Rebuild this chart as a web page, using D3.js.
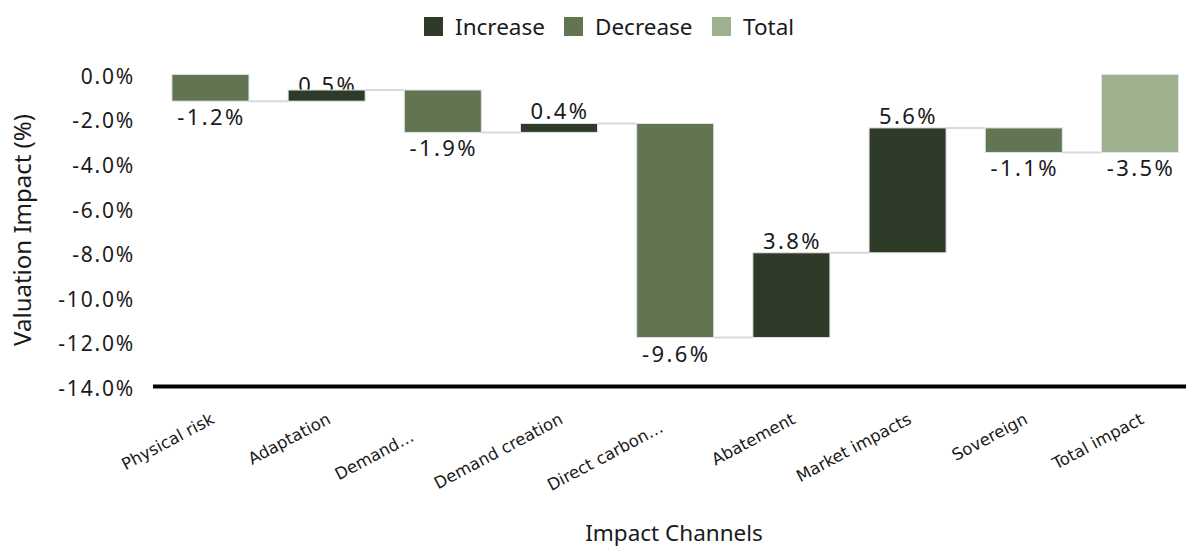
<!DOCTYPE html>
<html>
<head>
<meta charset="utf-8">
<script src="https://cdn.jsdelivr.net/npm/d3@7"></script>
<style>
  html, body { margin: 0; padding: 0; background: #fff; }
  svg { display: block; }
  .main { font-family: "Noto Sans", "Open Sans", sans-serif; fill: #1a1a1a; }
  .cat { font-family: "DejaVu Sans", sans-serif; fill: #1a1a1a; }
</style>
</head>
<body>
<svg id="chart" width="1186" height="548"></svg>
<script>
// Waterfall: valuation impact by channel
const categories = ["Physical risk", "Adaptation", "Demand…", "Demand creation", "Direct carbon…", "Abatement", "Market impacts", "Sovereign", "Total impact"];
const changes = [-1.2, 0.5, -1.9, 0.4, -9.6, 3.8, 5.6, -1.1];
const totalValue = -3.5;
const yTicks = [0, -2, -4, -6, -8, -10, -12, -14];
const legendItems = ["Increase", "Decrease", "Total"];

const colors = { Increase: "#2f3b29", Decrease: "#617552", Total: "#9db18f" };
// truncated labels keep the room of their hidden tail
const labelTail = { "Demand…": 37, "Direct carbon…": 18 };

const W = 1186, H = 548;
const svg = d3.select("#chart");

const x = d3.scaleBand()
  .domain(categories)
  .range([152.4, 1198])
  .paddingInner(0.337)
  .paddingOuter(0.168);

const y = d3.scaleLinear().domain([-14, 0]).range([386.6, 74.4]);

// running totals for each step
let run = 0;
const bars = changes.map((v, i) => {
  const start = run;
  run = +(run + v).toFixed(4);
  return { cat: categories[i], value: v, start, end: run, type: v >= 0 ? "Increase" : "Decrease" };
});
bars.push({ cat: categories[categories.length - 1], value: totalValue, start: 0, end: totalValue, type: "Total" });

// y axis
const yAxis = d3.axisLeft(y)
  .tickValues(yTicks)
  .tickSize(0)
  .tickPadding(17)
  .tickFormat(d => d.toFixed(1) + "%");
const gy = svg.append("g").attr("transform", "translate(152,0)").call(yAxis);
gy.select(".domain").remove();
gy.selectAll("text")
  .attr("class", "main")
  .style("font-size", "21px")
  .style("letter-spacing", "1.8px")
  .attr("dy", "0.42em");

// connectors between consecutive steps
svg.append("g").selectAll("line")
  .data(bars.slice(0, -1))
  .join("line")
  .attr("x1", d => x(d.cat) + x.bandwidth())
  .attr("x2", (d, i) => x(bars[i + 1].cat))
  .attr("y1", d => y(d.end))
  .attr("y2", d => y(d.end))
  .attr("stroke", "#d9d9d9")
  .attr("stroke-width", 2);

// value labels (kept inside the plot area, drawn beneath the bars)
const topLimit = y(0) + 19;
svg.append("g").selectAll("text")
  .data(bars)
  .join("text")
  .attr("class", "main")
  .attr("x", d => x(d.cat) + x.bandwidth() / 2 + 1)
  .attr("y", d => d.value >= 0
    ? Math.max(y(Math.max(d.start, d.end)) - 4, topLimit)
    : y(Math.min(d.start, d.end)) + 24)
  .attr("text-anchor", "middle")
  .style("font-size", "22px")
  .style("letter-spacing", "2.4px")
  .text(d => d.value.toFixed(1) + "%");

// bars
svg.append("g").selectAll("rect")
  .data(bars)
  .join("rect")
  .attr("x", d => x(d.cat))
  .attr("width", x.bandwidth())
  .attr("y", d => y(Math.max(d.start, d.end)))
  .attr("height", d => Math.abs(y(d.start) - y(d.end)))
  .attr("fill", d => colors[d.type])
  .attr("stroke", "#e2e2e2")
  .attr("stroke-width", 1);

// baseline
svg.append("line")
  .attr("x1", 153).attr("x2", W)
  .attr("y1", y(-14)).attr("y2", y(-14))
  .attr("stroke", "#000").attr("stroke-width", 4);

// category labels
svg.append("g").selectAll("text")
  .data(categories)
  .join("text")
  .attr("class", "cat")
  .attr("transform", d => `translate(${x(d) + x.bandwidth() / 2 + 5},${y(-14) + 36}) rotate(-28)`)
  .attr("text-anchor", "end")
  .attr("dx", d => -(labelTail[d] || 0))
  .style("font-size", "16.5px")
  .text(d => d);

// axis titles
svg.append("text")
  .attr("class", "main")
  .attr("transform", "translate(31,230) rotate(-90)")
  .attr("text-anchor", "middle")
  .style("font-size", "24px")
  .text("Valuation Impact (%)");

svg.append("text")
  .attr("class", "main")
  .attr("x", 674)
  .attr("y", 541)
  .attr("text-anchor", "middle")
  .style("font-size", "22.5px")
  .text("Impact Channels");

// legend
const legendX = [424, 564, 712];
const lg = svg.append("g").selectAll("g")
  .data(legendItems)
  .join("g")
  .attr("transform", (d, i) => `translate(${legendX[i]},17)`);
lg.append("rect")
  .attr("width", 19).attr("height", 19)
  .attr("fill", d => colors[d]);
lg.append("text")
  .attr("class", "main")
  .attr("x", 31).attr("y", 18)
  .style("font-size", "22.5px")
  .text(d => d);
</script>
</body>
</html>
